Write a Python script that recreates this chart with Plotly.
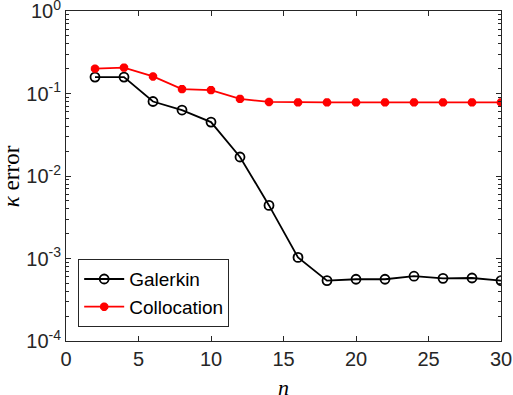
import plotly.graph_objects as go

n = [2, 4, 6, 8, 10, 12, 14, 16, 18, 20, 22, 24, 26, 28, 30]
galerkin = [0.158, 0.158, 0.080, 0.063, 0.045, 0.017, 0.0044, 0.00103,
            0.00054, 0.00056, 0.00056, 0.00061, 0.000575, 0.00058, 0.00054]
collocation = [0.200, 0.206, 0.161, 0.113, 0.110, 0.086, 0.079, 0.078,
               0.078, 0.078, 0.078, 0.078, 0.078, 0.078, 0.078]

ytick_vals = [1e-4, 1e-3, 1e-2, 1e-1, 1e0]
ytick_text = ["10<sup>-4</sup>", "10<sup>-3</sup>", "10<sup>-2</sup>",
              "10<sup>-1</sup>", "10<sup>0</sup>"]
minor_vals = [m * 10 ** e for e in range(-4, 0) for m in range(2, 10)]

fig = go.Figure()
fig.add_trace(go.Scatter(
    x=n, y=galerkin, name="Galerkin", mode="lines+markers",
    line=dict(color="black", width=1.8),
    marker=dict(symbol="circle-open", size=9, color="black",
                line=dict(width=1.8, color="black")),
))
fig.add_trace(go.Scatter(
    x=n, y=collocation, name="Collocation", mode="lines+markers",
    line=dict(color="#ff0000", width=1.8),
    marker=dict(symbol="asterisk-open", size=7, color="#ff0000",
                line=dict(width=3, color="#ff0000")),
))

serif = "Liberation Serif, DejaVu Serif, serif"
fig.update_layout(
    width=513, height=395,
    margin=dict(l=66, r=12, t=11, b=54, autoexpand=False),
    plot_bgcolor="white", paper_bgcolor="white",
    font=dict(family="Liberation Sans, Arial, sans-serif", size=20, color="#262626"),
    legend=dict(x=0.028, y=0.042, xanchor="left", yanchor="bottom",
                bgcolor="white", bordercolor="#262626", borderwidth=1,
                font=dict(size=19, color="black"), itemwidth=40,
                tracegroupgap=0),
    showlegend=True,
    annotations=[
        dict(text="<i>n</i>", xref="paper", yref="paper", x=0.499, y=-0.14,
             xanchor="center", yanchor="middle", showarrow=False,
             font=dict(family=serif, size=22, color="black")),
        dict(text="<i>κ</i> error", xref="paper", yref="paper", x=-0.126, y=0.5,
             xanchor="center", yanchor="middle", showarrow=False, textangle=-90,
             font=dict(family=serif, size=23, color="black")),
    ],
)
fig.update_xaxes(
    range=[0, 30], tickvals=[0, 5, 10, 15, 20, 25, 30],
    ticks="inside", ticklen=5, tickcolor="#262626", mirror="allticks",
    showline=True, linecolor="#262626", linewidth=1, showgrid=False, zeroline=False,
    automargin=False, ticklabeloverflow="allow",
)
fig.update_yaxes(
    type="log", range=[-4, 0], tickvals=ytick_vals, ticktext=ytick_text,
    ticks="inside", ticklen=5, tickcolor="#262626", mirror="allticks",
    showline=True, linecolor="#262626", linewidth=1, showgrid=False, zeroline=False,
    minor=dict(tickvals=minor_vals, ticks="inside", ticklen=3, tickcolor="#262626", showgrid=False),
    automargin=False, ticklabeloverflow="allow",
)

fig.write_html("out.html", config={"displayModeBar": False},
               post_script="document.body.style.margin='0px';document.body.style.overflow='hidden';")
